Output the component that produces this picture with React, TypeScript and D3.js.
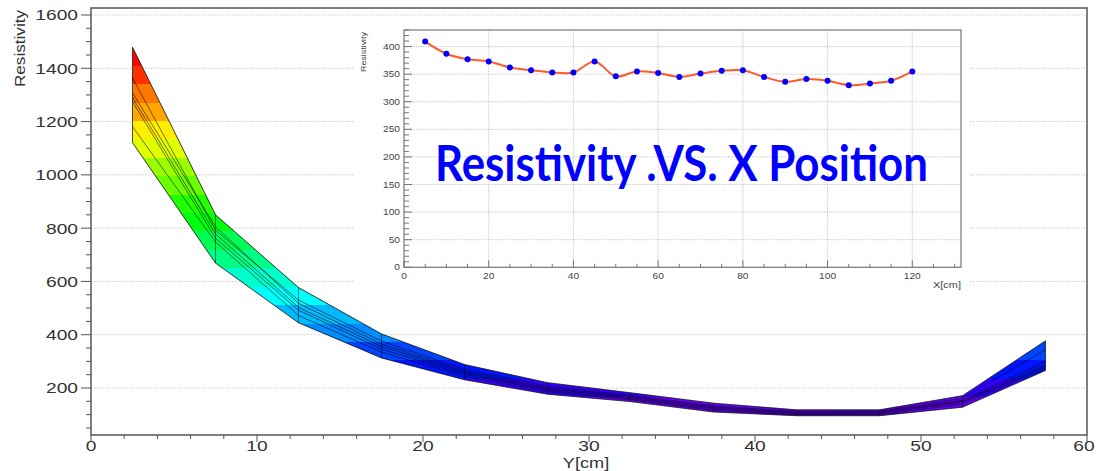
import React from 'react';
import * as d3 from 'd3';

// ---------- Main plot data (Resistivity vs Y[cm]) ----------
const bandPositions = [2.5, 7.5, 12.5, 17.5, 22.5, 27.5, 32.5, 37.5, 42.5, 47.5, 52.5, 57.5];
const curveA = [1479, 850, 577, 403, 288, 220, 182, 143, 118, 118, 171, 377];
const curveB = [1363, 792, 530, 376, 270, 207, 172, 133, 112, 113, 161, 344];
const curveC = [1307, 805, 518, 365, 263, 201, 168, 129, 109, 110, 154, 300];
const curveD = [1290, 778, 502, 356, 257, 196, 164, 125, 106, 107, 150, 287];
const curveE = [1275, 762, 492, 346, 251, 191, 160, 121, 103, 104, 146, 281];
const curveF = [1181, 748, 472, 335, 243, 186, 156, 116, 100, 100, 139, 274];
const curveG = [1121, 669, 445, 313, 231, 177, 149, 110, 96, 96, 128, 266];

const mainXTicks = [0, 10, 20, 30, 40, 50, 60];
const mainYTicks = [200, 400, 600, 800, 1000, 1200, 1400, 1600];

// ---------- Inset data (Resistivity vs X[cm]) ----------
const insetX = [5, 10, 15, 20, 25, 30, 35, 40, 45, 50, 55, 60, 65, 70, 75, 80, 85, 90, 95, 100, 105, 110, 115, 120];
const insetR = [409, 387, 377, 373, 362, 357, 353, 353, 373, 346, 355, 352, 345, 351, 356, 357, 345, 336, 341, 338, 330, 333, 338, 355];
const insetXTicks = [0, 20, 40, 60, 80, 100, 120];
const insetYTicks = [0, 50, 100, 150, 200, 250, 300, 350, 400];

const titleText = 'Resistivity .VS. X Position';

const FONT = '"Liberation Sans", Arial, sans-serif';

export default function App() {
  const W = 1099, H = 471;
  // main frame
  const fx0 = 91, fx1 = 1087, fy0 = 8, fy1 = 435;
  const x = d3.scaleLinear().domain([0, 60]).range([fx0, fx1]);
  const y = d3.scaleLinear().domain([23.6, 1626.3]).range([fy1, fy0]);

  const curves = [curveA, curveB, curveC, curveD, curveE, curveF, curveG];
  const upper = bandPositions.map((_, i) => d3.max(curves, c => c[i]) as number);
  const lower = bandPositions.map((_, i) => d3.min(curves, c => c[i]) as number);
  const all = curves.flat();
  const zmin = d3.min(all) as number;
  const zmax = d3.max(all) as number;

  const area = d3.area<number>()
    .x((_, i) => x(bandPositions[i]))
    .y0((_, i) => y(lower[i]))
    .y1((_, i) => y(upper[i]));
  const line = d3.line<number>()
    .x((_, i) => x(bandPositions[i]))
    .y(d => y(d));

  // ROOT pretty palette (violet -> red), 20 contour levels
  const nLevels = 20;
  const levelColor = (k: number) => {
    const idx = Math.floor((k + 0.99) * 50 / nLevels);
    const hue = Math.max(0, 280 - (idx + 1) * 5.6);
    return d3.hsl(hue, 1, 0.5).formatHex();
  };
  const stops: { off: number; col: string }[] = [];
  for (let k = 0; k < nLevels; k++) {
    stops.push({ off: k / nLevels, col: levelColor(k) });
    stops.push({ off: (k + 1) / nLevels, col: levelColor(k) });
  }

  const yMinor = d3.range(50, 1626, 50);
  const xMinor = d3.range(0, 61, 2);

  // inset
  const ix0 = 404, ix1 = 961, iy0 = 30, iy1 = 267.3;
  const ix = d3.scaleLinear().domain([0, 131.5]).range([ix0, ix1]);
  const iy = d3.scaleLinear().domain([0, 430]).range([iy1, iy0]);
  const iLine = d3.line<number>()
    .x((_, i) => ix(insetX[i]))
    .y(d => iy(d))
    .curve(d3.curveCatmullRom.alpha(0.5));
  const iyMinor = d3.range(0, 431, 10);
  const ixMinor = d3.range(0, 131, 5);

  return (
    <svg width={W} height={H} style={{ position: 'absolute', left: 0, top: 0, background: '#fff' }}
      xmlns="http://www.w3.org/2000/svg">
      <defs>
        <linearGradient id="pal" gradientUnits="userSpaceOnUse" x1={0} x2={0} y1={y(zmin)} y2={y(zmax)}>
          {stops.map((s, i) => (
            <stop key={i} offset={s.off} stopColor={s.col} />
          ))}
        </linearGradient>
      </defs>
      <rect x={0} y={0} width={W} height={H} fill="#fff" />

      {/* main grid */}
      {mainYTicks.map(t => (
        <line key={'g' + t} x1={fx0} x2={fx1} y1={y(t)} y2={y(t)} stroke="#c8c8c8" strokeWidth={1} strokeDasharray="1.5,1.5" />
      ))}

      {/* inset pad (white) */}
      <rect x={355} y={19} width={615} height={283} fill="#fff" />

      {/* band */}
      <path d={area(upper) || ''} fill="url(#pal)" stroke="#333" strokeOpacity={0.6} strokeWidth={0.8} />
      {curves.map((c, i) => (
        <path key={'c' + i} d={line(c) || ''} fill="none" stroke="#000" strokeOpacity={0.6} strokeWidth={0.9} />
      ))}
      {bandPositions.map((p, i) => (
        <line key={'v' + i} x1={x(p)} x2={x(p)} y1={y(upper[i])} y2={y(lower[i])} stroke="#000" strokeOpacity={0.6} strokeWidth={0.8} />
      ))}

      {/* main frame */}
      <rect x={fx0} y={fy0} width={fx1 - fx0} height={fy1 - fy0} fill="none" stroke="#606060" strokeWidth={1.6} />

      {/* main y axis ticks */}
      {yMinor.map(t => (
        <line key={'ym' + t} x1={fx0 - (t % 200 === 0 ? 10 : 5)} x2={fx0} y1={y(t)} y2={y(t)} stroke="#555" strokeWidth={1} />
      ))}
      {mainYTicks.map(t => (
        <g key={'yl' + t} transform={`translate(78,${y(t)}) scale(1.28,1)`}>
          <text x={0} y={0} dy="0.36em" textAnchor="end" fontFamily={FONT} fontSize={15} fill="#333">{t}</text>
        </g>
      ))}
      {/* main x axis ticks */}
      {xMinor.map(t => (
        <line key={'xm' + t} x1={x(t)} x2={x(t)} y1={fy1} y2={fy1 + (t % 10 === 0 ? 7 : 4)} stroke="#555" strokeWidth={1} />
      ))}
      {mainXTicks.map(t => (
        <g key={'xl' + t} transform={`translate(${x(t) - (t === 60 ? 3 : 0)},451) scale(1.28,1)`}>
          <text x={0} y={0} textAnchor="middle" fontFamily={FONT} fontSize={15} fill="#333">{t}</text>
        </g>
      ))}
      <g transform={`translate(${(fx0 + fx1) / 2 - 3},468) scale(1.3,1)`}>
        <text x={0} y={0} textAnchor="middle" fontFamily={FONT} fontSize={14} fill="#333">Y[cm]</text>
      </g>
      <text transform="translate(25,10) rotate(-90)" textAnchor="end" fontFamily={FONT} fontSize={15} fill="#333"
        textLength={77} lengthAdjust="spacingAndGlyphs">Resistivity</text>

      {/* ---------- inset ---------- */}
      {insetYTicks.filter(t => t > 0).map(t => (
        <line key={'igy' + t} x1={ix0} x2={ix1} y1={iy(t)} y2={iy(t)} stroke="#bdbdbd" strokeWidth={0.9} strokeDasharray="1.2,1.2" />
      ))}
      {insetXTicks.filter(t => t > 0).map(t => (
        <line key={'igx' + t} x1={ix(t)} x2={ix(t)} y1={iy0} y2={iy1} stroke="#bdbdbd" strokeWidth={0.9} strokeDasharray="1.2,1.2" />
      ))}
      {iyMinor.map(t => (
        <line key={'iym' + t} x1={ix0} x2={ix0 + (t % 50 === 0 ? 8 : 5)} y1={iy(t)} y2={iy(t)} stroke="#666" strokeWidth={0.9} />
      ))}
      {ixMinor.map(t => (
        <line key={'ixm' + t} x1={ix(t)} x2={ix(t)} y1={iy1} y2={iy1 - (t % 20 === 0 ? 7 : 3.5)} stroke="#666" strokeWidth={0.9} />
      ))}
      <rect x={ix0} y={iy0} width={ix1 - ix0} height={iy1 - iy0} fill="none" stroke="#777" strokeWidth={1.2} />
      {insetYTicks.map(t => (
        <g key={'iyl' + t} transform={`translate(400,${iy(t)}) scale(1.2,1)`}>
          <text x={0} y={0} dy="0.36em" textAnchor="end" fontFamily={FONT} fontSize={8.5} fill="#444">{t}</text>
        </g>
      ))}
      {insetXTicks.map(t => (
        <g key={'ixl' + t} transform={`translate(${ix(t)},279) scale(1.2,1)`}>
          <text x={0} y={0} textAnchor="middle" fontFamily={FONT} fontSize={8.5} fill="#444">{t}</text>
        </g>
      ))}
      <text x={961} y={288} textAnchor="end" fontFamily={FONT} fontSize={8.5} fill="#444"
        textLength={28} lengthAdjust="spacingAndGlyphs">X[cm]</text>
      <text transform="translate(366,32) rotate(-90)" textAnchor="end" fontFamily={FONT} fontSize={7.5} fill="#444"
        textLength={40} lengthAdjust="spacingAndGlyphs">Resistivity</text>

      <path d={iLine(insetR) || ''} fill="none" stroke="#ff5a2e" strokeWidth={2} />
      {insetR.map((r, i) => (
        <circle key={'ip' + i} cx={ix(insetX[i])} cy={iy(r)} r={3} fill="#0000ff" />
      ))}

      {/* overlay title */}
      <text x={435} y={181} fontFamily='Lato, "Open Sans", sans-serif' fontWeight={700} fontSize={50} fill="#0000ff"
        textLength={493} lengthAdjust="spacingAndGlyphs">{titleText}</text>
    </svg>
  );
}
